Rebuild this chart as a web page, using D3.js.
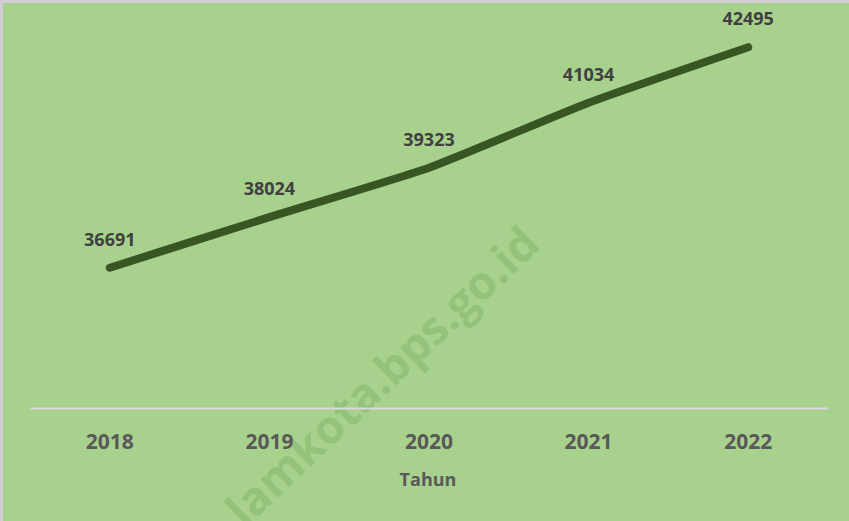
<!DOCTYPE html>
<html>
<head>
<meta charset="utf-8">
<script src="https://cdn.jsdelivr.net/npm/d3@7"></script>
<style>
html,body{margin:0;padding:0;background:#fff;}
svg{display:block;}
</style>
</head>
<body>
<svg id="chart" width="849" height="521"></svg>
<script>
const years = ["2018","2019","2020","2021","2022"];
const values = [36691, 38024, 39323, 41034, 42495];
const yDomain = [33000, 43000];
const axisTitle = "Tahun";
const watermark = "lamkota.bps.go.id";

const W = 849, H = 521;
const svg = d3.select("#chart");
const font = "'Open Sans', 'Liberation Sans', sans-serif";

svg.append("rect").attr("x",1.5).attr("y",1.5).attr("width",W+10).attr("height",H+10)
  .attr("fill","#a9d18e").attr("stroke","#d0d0d0").attr("stroke-width",3);

const x = d3.scaleBand().domain(years).range([30, 828]);
const y = d3.scaleLinear().domain(yDomain).range([408, 28]);

// watermark
svg.append("text")
  .attr("transform","translate(381,375) rotate(-43.5)")
  .attr("text-anchor","middle")
  .attr("dominant-baseline","central")
  .attr("font-family",font).attr("font-weight","bold").attr("font-size",46)
  .attr("fill","#8fbe74").attr("fill-opacity",0.75)
  .text(watermark);

// x axis
const xAxis = d3.axisBottom(x).tickSize(0).tickPadding(0);
const gx = svg.append("g").attr("transform","translate(0,408)").call(xAxis);
gx.select(".domain").attr("stroke","#d9d9d9").attr("stroke-width",2);
gx.selectAll("text").attr("dy",null).attr("y",41)
  .attr("font-family",font).attr("font-weight","bold").attr("font-size",21).attr("fill","#595959");

svg.append("text").attr("x",428).attr("y",486).attr("text-anchor","middle")
  .attr("font-family",font).attr("font-weight","bold").attr("font-size",18).attr("fill","#595959")
  .text(axisTitle);

const cx = d => x(d) + x.bandwidth()/2;
const line = d3.line().x((d,i)=>cx(years[i])).y(d=>y(d)).curve(d3.curveCardinal.tension(0.5));
svg.append("path").datum(values).attr("d",line)
  .attr("fill","none").attr("stroke","#375623").attr("stroke-width",8)
  .attr("stroke-linecap","round").attr("stroke-linejoin","round");

svg.selectAll(".lbl").data(values).enter().append("text")
  .attr("x",(d,i)=>cx(years[i])).attr("y",d=>y(d)-22)
  .attr("text-anchor","middle")
  .attr("font-family",font).attr("font-weight","bold").attr("font-size",18).attr("fill","#404040")
  .text(d=>d);
</script>
</body>
</html>
